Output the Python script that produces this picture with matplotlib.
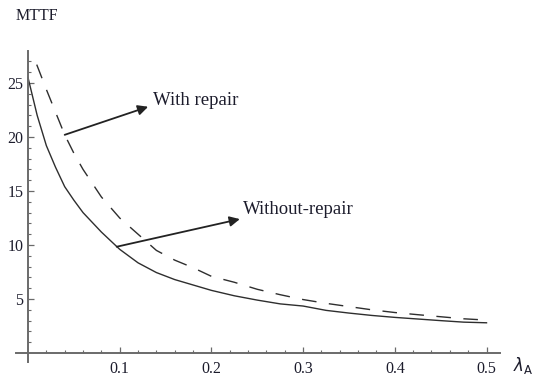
import matplotlib
matplotlib.use("Agg")
import matplotlib.pyplot as plt
from matplotlib.ticker import FixedLocator

# failure rate lambda_A
lam_without = [0, 0.01, 0.02, 0.03, 0.04, 0.05, 0.06, 0.08, 0.1, 0.12, 0.14, 0.16,
               0.18, 0.2, 0.225, 0.25, 0.275, 0.3, 0.325, 0.35, 0.375, 0.4, 0.425,
               0.45, 0.475, 0.5]
mttf_without = [25.5, 22.0, 19.2, 17.2, 15.4, 14.15, 13.0, 11.2, 9.6, 8.35, 7.45, 6.8,
                6.3, 5.8, 5.3, 4.9, 4.55, 4.35, 3.95, 3.7, 3.48, 3.3, 3.15,
                3.0, 2.86, 2.8]

lam_with = [0.0095, 0.02, 0.03, 0.04, 0.05, 0.06, 0.08, 0.1, 0.12, 0.14, 0.16,
            0.18, 0.2, 0.225, 0.25, 0.275, 0.3, 0.325, 0.35, 0.375, 0.4, 0.425,
            0.45, 0.475, 0.5]
mttf_with = [26.7, 24.4, 22.3, 20.2, 18.5, 17.0, 14.45, 12.5, 11.0, 9.5, 8.6,
             7.9, 7.1, 6.55, 5.9, 5.4, 4.95, 4.6, 4.3, 4.0, 3.75, 3.55,
             3.36, 3.17, 3.05]

x_major = [0.1, 0.2, 0.3, 0.4, 0.5]
x_labels = ["0.1", "0.2", "0.3", "0.4", "0.5"]
y_major = [5, 10, 15, 20, 25]
y_labels = ["5", "10", "15", "20", "25"]

serif = "Liberation Serif"
txt_color = "#1c1c2c"
line_color = "#2e2e2e"
axis_color = "#6a6a6a"

W, H = 541, 379
fig = plt.figure(figsize=(W / 100, H / 100), dpi=100)
ax = fig.add_axes([16 / W, 17 / H, 484 / W, 311 / H])
ax.set_xlim(-0.0131, 0.5147)
ax.set_ylim(-0.83, 27.96)

plt.rcParams["lines.scale_dashes"] = False
ax.plot(lam_without, mttf_without, color=line_color, lw=1.0, solid_joinstyle="round")
ax.plot(lam_with, mttf_with, color=line_color, lw=1.0, dashes=(10.5, 9.0))

for s in ("top", "right"):
    ax.spines[s].set_visible(False)
for s in ("left", "bottom"):
    ax.spines[s].set_position(("data", 0))
    ax.spines[s].set_color(axis_color)
    ax.spines[s].set_linewidth(1.4)

ax.xaxis.set_major_locator(FixedLocator(x_major))
ax.set_xticklabels(x_labels)
ax.xaxis.set_minor_locator(FixedLocator([i * 0.02 for i in range(1, 26)]))
ax.yaxis.set_major_locator(FixedLocator(y_major))
ax.set_yticklabels(y_labels)
ax.yaxis.set_minor_locator(FixedLocator(list(range(1, 28))))

ax.tick_params(axis="both", which="major", direction="in", length=4, width=0.9,
               color=axis_color, labelsize=11.5, labelcolor=txt_color)
ax.tick_params(axis="both", which="minor", direction="in", length=2.2, width=0.8,
               color=axis_color)
ax.tick_params(axis="x", which="major", pad=5.5)
ax.tick_params(axis="y", which="major", pad=3.5)
for lbl in ax.get_xticklabels() + ax.get_yticklabels():
    lbl.set_fontfamily(serif)

arrow = dict(arrowstyle="-|>", mutation_scale=15, lw=1.3, color="#222222",
             shrinkA=0, shrinkB=0)
ax.annotate("", xy=(0.131, 22.8), xytext=(0.040, 20.2), arrowprops=arrow)
ax.annotate("", xy=(0.231, 12.4), xytext=(0.0967, 9.84), arrowprops=arrow)
ax.text(0.136, 23.4, "With repair", family=serif, fontsize=13.5,
        color=txt_color, ha="left", va="center")
ax.text(0.234, 13.25, "Without-repair", family=serif, fontsize=13.5,
        color=txt_color, ha="left", va="center")

fig.text(16 / W, 1 - 16 / H, "MTTF", family=serif, fontsize=11.5,
         color=txt_color, ha="left", va="center")
fig.text(513 / W, 1 - 365 / H, r"$\lambda_{\mathrm{A}}$", fontsize=12,
         color=txt_color, ha="left", va="center")

fig.savefig("out.png", dpi=100)
